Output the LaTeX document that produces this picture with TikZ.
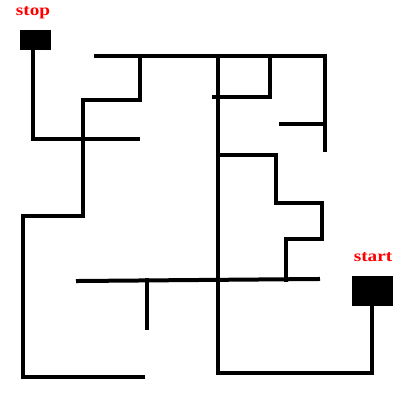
\documentclass[tikz,border=0pt]{standalone}
\usepackage{fontspec}
\setmainfont{Liberation Serif}
\begin{document}
\begin{tikzpicture}[x=1pt,y=-1pt,
  wall/.style={line width=4pt,line cap=rect,line join=miter},
  blockbox/.style={fill=black,draw=none,inner sep=0pt,anchor=north west},
  tag/.style={text=red,font=\fontsize{16}{16}\selectfont\bfseries,xscale=1.2,transform shape,inner sep=0pt}]
\useasboundingbox (0,0) rectangle (400,400);
% boxes
\node[blockbox,minimum width=31pt,minimum height=20pt] (stop) at (20,30) {};
\node[blockbox,minimum width=41pt,minimum height=30pt] (start) at (352,276) {};
\node[tag] (stoptxt) at (33,13) {stop};
\node[tag] (starttxt) at (373,257) {start};
% maze walls
\draw[wall] (stop.south -| 33,0) -- (33,139) -- (138,139);
\draw[wall] (96,56) -- (325,56) -- (325,150);
\draw[wall] (140,56) -- (140,100) -- (83,100) -- (83,216) -- (23,216) -- (23,377) -- (143,377);
\draw[wall] (270,56) -- (270,97) -- (214,97);
\draw[wall] (218,56) -- (218,373) -- (372,373) -- (start.south -| 372,0);
\draw[wall] (281,124) -- (325,124);
\draw[wall] (218,155) -- (276,155) -- (276,203) -- (322,203) -- (322,239) -- (286,239) -- (286,280);
\draw[wall] (78,281) -- (318,279);
\draw[wall] (147,280) -- (147,328);
\end{tikzpicture}
\end{document}
